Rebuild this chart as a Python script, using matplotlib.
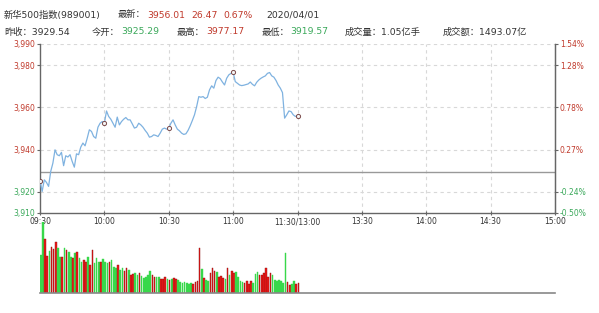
import matplotlib
matplotlib.use('Agg')
import matplotlib.pyplot as plt
import numpy as np

plt.rcParams['font.family'] = ['DejaVu Sans', 'Noto Sans CJK SC']

# --- data ---
prev_close = 3929.54
time_labels = ['09:30', '10:00', '10:30', '11:00', '11:30/13:00', '13:30', '14:00', '14:30', '15:00']
y_ticks = [3990, 3980, 3960, 3940, 3920, 3910]

# one value per minute, 09:30 .. 11:30
price = [3925.3, 3920.2, 3925.7, 3924.5, 3922.6, 3929.7, 3933.6, 3939.9, 3937.6, 3937.1,
         3938.7, 3932.4, 3937.1, 3936.5, 3937.6, 3934.4, 3931.7, 3938.0, 3937.6, 3941.2,
         3943.1, 3941.8, 3945.4, 3949.4, 3948.6, 3946.2, 3945.4, 3950.6, 3952.5, 3953.3,
         3952.5, 3958.3, 3955.7, 3954.4, 3952.5, 3950.6, 3955.4, 3951.7, 3953.3, 3954.4,
         3955.2, 3954.1, 3954.1, 3952.2, 3950.2, 3950.6, 3952.5, 3951.7, 3950.6, 3949.1,
         3947.8, 3945.9, 3946.2, 3947.0, 3946.7, 3946.2, 3947.8, 3949.7, 3950.2, 3949.7,
         3950.2, 3952.5, 3954.1, 3951.7, 3949.7, 3948.9, 3947.8, 3947.2, 3947.5, 3949.1,
         3951.3, 3953.8, 3956.5, 3960.4, 3965.1, 3964.8, 3965.1, 3964.2, 3964.8, 3968.3,
         3970.2, 3969.1, 3972.7, 3974.3, 3973.6, 3972.0, 3970.6, 3973.8, 3975.4, 3976.1,
         3976.6, 3972.2, 3971.4, 3970.6, 3970.3, 3970.5, 3970.8, 3971.1, 3972.0, 3970.9,
         3970.2, 3971.9, 3973.0, 3973.8, 3974.4, 3974.9, 3976.1, 3976.5, 3974.9, 3974.3,
         3972.7, 3970.6, 3969.1, 3967.0, 3954.9, 3956.5, 3958.3, 3958.0, 3956.5, 3955.7,
         3956.0]

volume = [113, 211, 161, 111, 125, 136, 131, 153, 135, 108,
          108, 133, 128, 123, 108, 105, 118, 123, 103, 93,
          98, 93, 108, 83, 129, 88, 103, 93, 93, 101,
          93, 88, 93, 98, 78, 73, 83, 68, 73, 65,
          75, 68, 53, 55, 58, 53, 60, 51, 45, 48,
          53, 65, 53, 48, 48, 48, 41, 41, 48, 43,
          38, 41, 45, 43, 38, 33, 31, 33, 31, 28,
          31, 28, 33, 35, 133, 71, 45, 38, 35, 58,
          73, 65, 63, 48, 51, 45, 41, 73, 53, 65,
          58, 63, 48, 35, 33, 31, 35, 28, 37, 31,
          55, 63, 53, 53, 58, 73, 48, 58, 53, 38,
          35, 38, 35, 31, 118, 33, 23, 28, 35, 26,
          30]
# 1 = up (red), 0 = down (green)
vol_up = [0, 0, 1, 1, 0, 1, 1, 1, 0, 0,
          1, 0, 1, 0, 0, 1, 0, 1, 0, 0,
          1, 1, 0, 1, 1, 0, 0, 0, 1, 0,
          0, 0, 1, 0, 0, 0, 1, 0, 0, 1,
          1, 0, 1, 1, 0, 0, 1, 0, 0, 0,
          0, 0, 1, 1, 0, 0, 1, 1, 1, 0,
          1, 0, 1, 1, 0, 0, 0, 0, 0, 0,
          0, 1, 1, 1, 1, 0, 1, 0, 0, 1,
          1, 1, 0, 1, 1, 1, 0, 1, 0, 1,
          1, 0, 0, 0, 0, 1, 1, 1, 1, 0,
          0, 0, 1, 1, 1, 1, 1, 1, 0, 0,
          0, 0, 0, 0, 0, 1, 1, 0, 0, 1,
          1]

RED = '#c0392b'
GREEN = '#3aa85a'
TXT = '#333333'

fig = plt.figure(figsize=(5.99, 3.13), dpi=100)
W, H = 599.0, 313.0

def fx(px):
    return px / W

def fy(py):
    return 1 - py / H

# header
hs = 6.7
fig.text(fx(4), fy(15), '新华500指数(989001)', fontsize=hs, color=TXT, va='center')
fig.text(fx(118), fy(15), '最新：', fontsize=hs, color=TXT, va='center')
fig.text(fx(147), fy(15), '3956.01', fontsize=hs, color=RED, va='center')
fig.text(fx(191), fy(15), '26.47', fontsize=hs, color=RED, va='center')
fig.text(fx(223), fy(15), '0.67%', fontsize=hs, color=RED, va='center')
fig.text(fx(266), fy(15), '2020/04/01', fontsize=hs, color=TXT, va='center')

fig.text(fx(4), fy(32), '昨收：3929.54', fontsize=hs, color=TXT, va='center')
fig.text(fx(92), fy(32), '今开：', fontsize=hs, color=TXT, va='center')
fig.text(fx(121), fy(32), '3925.29', fontsize=hs, color=GREEN, va='center')
fig.text(fx(177), fy(32), '最高：', fontsize=hs, color=TXT, va='center')
fig.text(fx(206), fy(32), '3977.17', fontsize=hs, color=RED, va='center')
fig.text(fx(262), fy(32), '最低：', fontsize=hs, color=TXT, va='center')
fig.text(fx(290), fy(32), '3919.57', fontsize=hs, color=GREEN, va='center')
fig.text(fx(345), fy(32), '成交量：1.05亿手', fontsize=hs, color=TXT, va='center')
fig.text(fx(443), fy(32), '成交额：1493.07亿', fontsize=hs, color=TXT, va='center')

# price panel
left, right = fx(40), fx(555)
ax = fig.add_axes([left, fy(213), right - left, fy(44) - fy(213)])
minutes = np.arange(len(price))
ax.plot(minutes, price, color='#7fb2e0', lw=0.9, zorder=3)
marks = minutes[::30]
ax.plot(marks, [price[i] for i in marks], ls='none', marker='o', ms=3,
        mfc='#f4f4f4', mec='#7a4a4a', mew=0.7, zorder=4)
ax.axhline(prev_close, color='#999999', lw=1, zorder=2)

ax.set_xlim(0, 240)
ax.set_ylim(3910, 3990)
xt = np.arange(0, 241, 30)
ax.set_xticks(xt)
ax.set_xticklabels(time_labels)
ax.set_yticks(y_ticks)
ax.set_yticklabels([f'{v:,}' for v in y_ticks])
for lab, v in zip(ax.get_yticklabels(), y_ticks):
    lab.set_color(RED if v > prev_close else GREEN)

for v in [3990, 3980, 3960, 3940, 3920]:
    ax.axhline(v, color='#d8d8d8', lw=0.8, ls=(0, (3, 3)), zorder=1)
for t in xt[1:-1]:
    ax.axvline(t, color='#d8d8d8', lw=0.8, ls=(0, (3, 3)), zorder=1)

ax.spines['top'].set_visible(False)
for s in ['left', 'right', 'bottom']:
    ax.spines[s].set_color('#666666')
    ax.spines[s].set_linewidth(1)
ax.tick_params(axis='y', length=2.5, width=0.8, color='#666666', labelsize=5.5, pad=1)
ax.tick_params(axis='x', length=3, width=0.8, color='#666666', labelsize=5.5,
               labelcolor=TXT, direction='inout', pad=1.5)

ax2 = ax.twinx()
ax2.set_ylim(3910, 3990)
ax2.set_yticks(y_ticks)
ax2.set_yticklabels([f'{(v / prev_close - 1) * 100:.2f}%' for v in y_ticks])
for lab, v in zip(ax2.get_yticklabels(), y_ticks):
    lab.set_color(RED if v > prev_close else GREEN)
for s in ['top', 'left', 'bottom']:
    ax2.spines[s].set_visible(False)
ax2.spines['right'].set_color('#666666')
ax2.tick_params(axis='y', length=2.5, width=0.8, color='#666666', labelsize=5.5, pad=1)

# volume panel
axv = fig.add_axes([left, fy(293), right - left, fy(222) - fy(293)])
vcol = ['#f01818' if u else '#38d84a' for u in vol_up]
vedge = ['#8b1010' if u else '#38d84a' for u in vol_up]
axv.bar(np.arange(len(volume)), volume, width=0.75, align='edge',
        color=vcol, edgecolor=vedge, linewidth=0.3)
axv.set_xlim(0, 240)
axv.set_ylim(0, max(volume))
for s in ['top', 'left', 'right']:
    axv.spines[s].set_visible(False)
axv.spines['bottom'].set_color('#888888')
axv.spines['bottom'].set_linewidth(1.2)
axv.set_xticks([])
axv.set_yticks([])
axv.patch.set_alpha(0)

fig.savefig('out.png', dpi=100)
